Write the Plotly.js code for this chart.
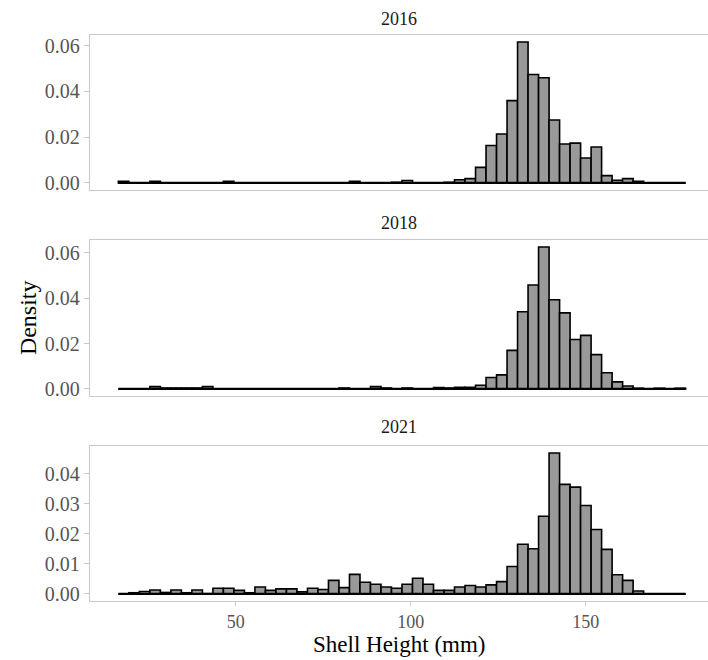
<!DOCTYPE html>
<html>
<head>
<meta charset="utf-8">
<script src="https://cdn.plot.ly/plotly-3.0.1.min.js"></script>
<style>html,body{margin:0;padding:0;background:#fff;}#chart{width:708px;height:660px;}</style>
</head>
<body>
<div id="chart"></div>
<script>
// Bin settings (shell height, mm)
const binStart = 16.5;
const binWidth = 3;
const binCenters = [18,21,24,27,30,33,36,39,42,45,48,51,54,57,60,63,66,69,72,75,78,81,84,87,90,93,96,99,102,105,108,111,114,117,120,123,126,129,132,135,138,141,144,147,150,153,156,159,162,165,168,171,174,177];

const panelYears = ["2016", "2018", "2021"];

// Density per bin
const density2016 = [0.0007,0,0,0.0007,0,0,0,0,0,0,0.0007,0,0,0,0,0,0,0,0,0,0,0,0.0007,0,0,0,0.0003,0.0011,0,0,0,0.0003,0.0014,0.0019,0.0068,0.0164,0.0214,0.0360,0.0616,0.0474,0.0460,0.0275,0.0170,0.0174,0.0109,0.0157,0.0032,0.0012,0.0019,0.0007,0,0,0,0];
const density2018 = [0,0,0,0.0010,0.0004,0.0004,0.0004,0.0004,0.0010,0,0,0,0,0,0,0,0,0,0,0,0,0.0004,0,0,0.0010,0.0004,0,0.0004,0,0,0.0006,0.0004,0.0007,0.0007,0.0016,0.0050,0.0062,0.0170,0.0340,0.0458,0.0625,0.0393,0.0335,0.0218,0.0236,0.0151,0.0071,0.0031,0.0013,0.0003,0,0.0003,0,0.0003];
const density2021 = [0,0.0004,0.0008,0.0013,0.0005,0.0013,0.0004,0.0013,0.0001,0.0019,0.0019,0.0012,0.0004,0.0023,0.0012,0.0017,0.0017,0.0007,0.0019,0.0015,0.0045,0.0021,0.0065,0.0039,0.0032,0.0023,0.0019,0.0032,0.0052,0.0032,0.0012,0.0012,0.0023,0.0028,0.0023,0.0030,0.0041,0.0091,0.0165,0.0150,0.0258,0.0468,0.0364,0.0355,0.0294,0.0214,0.0148,0.0064,0.0045,0.0010,0,0,0,0];

const yTicks2016 = [0, 0.02, 0.04, 0.06];
const yTicks2018 = [0, 0.02, 0.04, 0.06];
const yTicks2021 = [0, 0.01, 0.02, 0.03, 0.04];
const xTicks = [50, 100, 150];

const allDensity = [density2016, density2018, density2021];
const allTicks = [yTicks2016, yTicks2018, yTicks2021];

const binEnd = binStart + binWidth * binCenters.length;
const span = binEnd - binStart;
const xLo = binStart - 0.05 * span;
const xHi = xLo + 1.1 * span * (618 / 624);

const serif = "Liberation Serif";
const frameColor = "#c9c9c9";
const tickColor = "#555555";

const domains = [[0.7121, 0.9470], [0.4, 0.6364], [0.0894, 0.3242]];
const titleY = [0.9712, 0.6621, 0.353];

const traces = [];
const layout = {
  width: 708, height: 660,
  margin: {l: 0, r: 0, t: 0, b: 0},
  paper_bgcolor: "#ffffff", plot_bgcolor: "#ffffff",
  showlegend: false,
  bargap: 0,
  font: {family: serif, color: tickColor},
  annotations: []
};

for (let i = 0; i < 3; i++) {
  const sfx = i === 0 ? "" : String(i + 1);
  const xa = "x" + sfx, ya = "y" + sfx;
  const d = allDensity[i];
  traces.push({
    type: "bar", x: binCenters, y: d, width: binWidth,
    xaxis: xa, yaxis: ya,
    marker: {color: "#999999", line: {color: "#000000", width: 1.6}},
    hoverinfo: "skip"
  });
  traces.push({
    type: "scatter", mode: "lines", x: [binStart, binEnd], y: [0, 0],
    xaxis: xa, yaxis: ya,
    line: {color: "#000000", width: 2.2},
    hoverinfo: "skip"
  });
  const m = Math.max.apply(null, d);
  layout["xaxis" + sfx] = {
    domain: [90 / 708, 1], range: [xLo, xHi], anchor: ya,
    showgrid: false, zeroline: false,
    showline: true, mirror: true, linecolor: frameColor, linewidth: 1.3,
    tickmode: "array", tickvals: xTicks, ticktext: xTicks.map(String),
    showticklabels: i === 2, ticks: i === 2 ? "outside" : "", ticklen: 4, tickcolor: frameColor, tickwidth: 1,
    tickfont: {family: serif, size: 18, color: tickColor}
  };
  layout["yaxis" + sfx] = {
    domain: domains[i], range: [-0.05 * m, 1.05 * m], anchor: xa,
    showgrid: false, zeroline: false,
    showline: true, linecolor: frameColor, linewidth: 1.3,
    tickmode: "array", tickvals: allTicks[i], ticktext: allTicks[i].map(v => v.toFixed(2)),
    ticks: "outside", ticklen: 5, tickcolor: frameColor, tickwidth: 1,
    tickfont: {family: serif, size: 20, color: tickColor}
  };
  layout.annotations.push({
    text: panelYears[i], xref: "paper", yref: "paper",
    x: (90 / 708 + 1) / 2, y: titleY[i], xanchor: "center", yanchor: "middle",
    showarrow: false, font: {family: serif, size: 18, color: "#1a1a1a"}
  });
}

layout.annotations.push({
  text: "Density", xref: "paper", yref: "paper", x: 28 / 708, y: 0.518,
  xanchor: "center", yanchor: "middle", textangle: -90, showarrow: false,
  font: {family: serif, size: 24, color: "#000000"}
});
layout.annotations.push({
  text: "Shell Height (mm)", xref: "paper", yref: "paper", x: (90 / 708 + 1) / 2, y: 0,
  xanchor: "center", yanchor: "bottom", yshift: 1, showarrow: false,
  font: {family: serif, size: 23, color: "#000000"}
});

Plotly.newPlot("chart", traces, layout, {staticPlot: true, displayModeBar: false});
</script>
</body>
</html>
